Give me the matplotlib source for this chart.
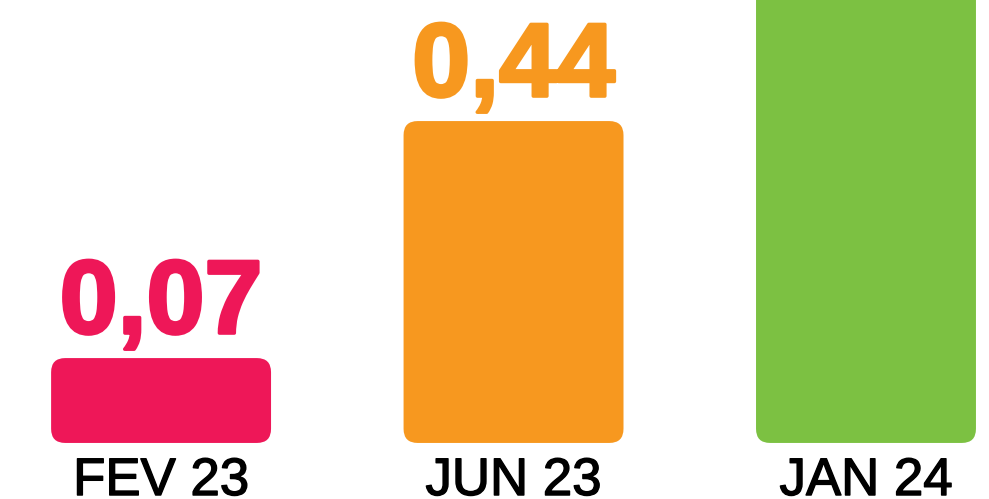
import matplotlib.pyplot as plt
import matplotlib.patheffects as pe
from matplotlib.patches import FancyBboxPatch

categories = ["FEV 23", "JUN 23", "JAN 24"]
values = [0.07, 0.44, 1.00]
labels = ["0,07", "0,44", "1,00"]
colors = ["#EE1758", "#F7981F", "#7CC142"]

base = -0.0625  # bars start a little below zero

fig = plt.figure(figsize=(9.89, 4.99), dpi=100)
ax = fig.add_axes([0, 0, 1, 1])
ax.set_xlim(-0.457, 2.349)
ax.set_ylim(-0.15, 0.629)
ax.axis("off")

x = list(range(len(categories)))
heights = [v - base for v in values]
bars = ax.bar(x, heights, width=0.624, bottom=base, color=colors)

# swap plain rectangles for rounded ones
aspect = (0.629 + 0.15) / 499 / ((2.349 + 0.457) / 989)
for b in bars:
    bx, by = b.get_x(), b.get_y()
    bw, bh = b.get_width(), b.get_height()
    patch = FancyBboxPatch((bx, by), bw, bh,
                           boxstyle="round,pad=0,rounding_size=0.04",
                           mutation_aspect=aspect,
                           facecolor=b.get_facecolor(), edgecolor="none")
    b.remove()
    ax.add_patch(patch)

for xi, v, lab, c in zip(x, values, labels, colors):
    ax.annotate(lab, (xi, v), xytext=(0, 18), textcoords="offset points",
                ha="center", va="baseline", fontsize=75, fontweight="bold",
                color=c, family="Liberation Sans",
                path_effects=[pe.withStroke(linewidth=2.5, foreground=c)])

for xi, cat in zip(x, categories):
    ax.annotate(cat, (xi, base), xytext=(0, -37.5), textcoords="offset points",
                ha="center", va="baseline", fontsize=38,
                color="black", family="Liberation Sans",
                path_effects=[pe.withStroke(linewidth=1.0, foreground="black")],
                annotation_clip=False)

fig.savefig("out.png", dpi=100)
